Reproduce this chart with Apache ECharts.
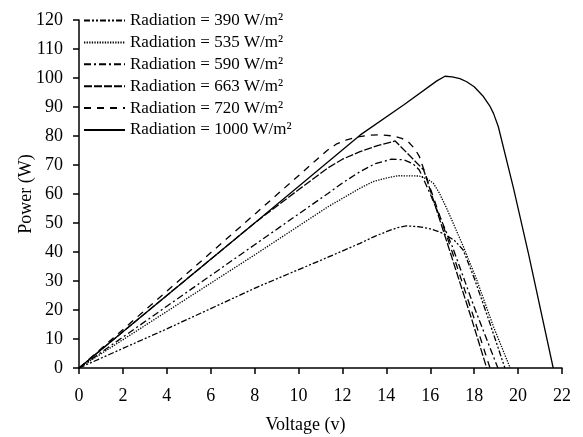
<!DOCTYPE html>
<html>
<head>
<meta charset="utf-8">
<script src="https://cdn.jsdelivr.net/npm/echarts@6/dist/echarts.min.js"></script>
<style>
  html, body { margin: 0; padding: 0; background: #fff; }
  #chart { width: 583px; height: 437px; }
</style>
</head>
<body>
<div id="chart"></div>
<script>
// values, voltage (V) / power (W) pairs per radiation level
var v390 = [0, 4, 8.15, 11.34, 12.8, 13.5, 14, 14.5, 14.92, 15.5, 16, 16.6, 17.1, 17.5, 18, 18.6, 19.4]
var p390 = [0, 13.5, 28, 38.2, 43, 45.5, 47, 48.4, 49, 48.7, 48, 46.4, 44, 40.7, 31, 18, 0]

var v535 = [0, 4, 8, 11.34, 12.8, 13.4, 14, 14.55, 15.5, 15.9, 16.14, 16.4, 16.75, 17.5, 18.12, 18.88, 19.64]
var p535 = [0, 19.5, 39, 55.6, 62, 64.3, 65.5, 66.3, 66.2, 65, 63.7, 60.5, 55, 42, 30.3, 14.2, 0]

var v590 = [0, 4, 8, 11.34, 12, 12.8, 13.5, 14.24, 14.8, 15.2, 15.5, 16, 17, 18, 19.08]
var p590 = [0, 21.3, 42.5, 60.2, 63.8, 67.7, 70.5, 72, 71.8, 70.5, 68.3, 60, 42, 21, 0]

var v663 = [0, 4, 8, 10, 11.34, 12, 12.8, 13.6, 14.4, 15.7, 16.5, 17.2, 17.9, 18.57]
var p663 = [0, 25, 50, 61.5, 69, 72, 74.6, 76.7, 78.3, 68.3, 49.5, 33, 16.5, 0]

var v720 = [0, 4, 8, 11.3, 11.74, 12.2, 12.7, 13.3, 13.8, 14.3, 14.7, 15, 15.3, 15.5, 16, 17, 18, 18.72]
var p720 = [0, 26.5, 53, 75, 77.3, 78.7, 79.7, 80.3, 80.4, 80, 79.2, 78, 75.5, 73, 62, 40, 17, 0]

var v1000 = [0, 4, 8, 12.8, 14.8, 16.3, 16.67, 17.0, 17.35, 17.66, 18.0, 18.42, 18.7, 18.88, 19.1, 19.79, 20.47, 21.6]
var p1000 = [0, 25, 50, 80.3, 90.8, 99, 100.6, 100.4, 99.8, 98.7, 97, 93.6, 90.5, 87.8, 83.2, 62, 39.5, 0]

var names = ['Radiation = 390 W/m²', 'Radiation = 535 W/m²', 'Radiation = 590 W/m²',
             'Radiation = 663 W/m²', 'Radiation = 720 W/m²', 'Radiation = 1000 W/m²']
var xTicks = [0, 22, 2]   // min, max, step
var yTicks = [0, 120, 10]

var font = 'Liberation Serif'

function pairs(v, p) {
  var out = []
  for (var i = 0; i < v.length; i++) out.push([v[i], p[i]])
  return out
}

function line(name, v, p, dash) {
  return {
    name: name,
    type: 'line',
    data: pairs(v, p),
    symbol: 'none',
    smooth: false,
    lineStyle: { color: '#000', width: 1.3, type: dash },
    itemStyle: { color: '#000' }
  }
}

var chart = echarts.init(document.getElementById('chart'))

chart.setOption({
  animation: false,
  backgroundColor: '#fff',
  grid: { left: 79, right: 21, top: 20, bottom: 69, outerBoundsMode: 'none' },
  legend: {
    orient: 'vertical',
    left: 83,
    top: 12,
    padding: 0,
    itemWidth: 41,
    itemHeight: 12,
    itemGap: 4.9,
    data: names,
    itemStyle: { opacity: 0, color: 'transparent', borderWidth: 0 },
    textStyle: { fontFamily: font, fontSize: 17, color: '#000', lineHeight: 17 }
  },
  xAxis: {
    type: 'value',
    min: xTicks[0], max: xTicks[1], interval: xTicks[2],
    name: 'Voltage (v)',
    nameLocation: 'middle',
    nameGap: 48,
    nameMoveOverlap: false,
    nameTextStyle: { fontFamily: font, fontSize: 18, color: '#000', padding: [0, 30, 0, 0] },
    axisLine: { lineStyle: { color: '#000', width: 1.5 } },
    axisTick: { length: 6, lineStyle: { color: '#000', width: 1.5 } },
    axisLabel: { fontFamily: font, fontSize: 18, color: '#000', margin: 19 },
    splitLine: { show: false }
  },
  yAxis: {
    type: 'value',
    min: yTicks[0], max: yTicks[1], interval: yTicks[2],
    name: 'Power (W)',
    nameLocation: 'middle',
    nameGap: 44,
    nameMoveOverlap: false,
    nameTextStyle: { fontFamily: font, fontSize: 18, color: '#000' },
    axisLine: { show: true, lineStyle: { color: '#000', width: 1.5 } },
    axisTick: { show: true, length: 6, lineStyle: { color: '#000', width: 1.5 } },
    axisLabel: { fontFamily: font, fontSize: 18, color: '#000', margin: 16 },
    splitLine: { show: false }
  },
  series: [
    line(names[0], v390, p390, [6, 2, 2, 2, 2, 2]),
    line(names[1], v535, p535, [1.3, 1.3]),
    line(names[2], v590, p590, [7, 3, 2, 3]),
    line(names[3], v663, p663, [8, 2]),
    line(names[4], v720, p720, [7, 6]),
    line(names[5], v1000, p1000, 'solid')
  ]
})
</script>
</body>
</html>
